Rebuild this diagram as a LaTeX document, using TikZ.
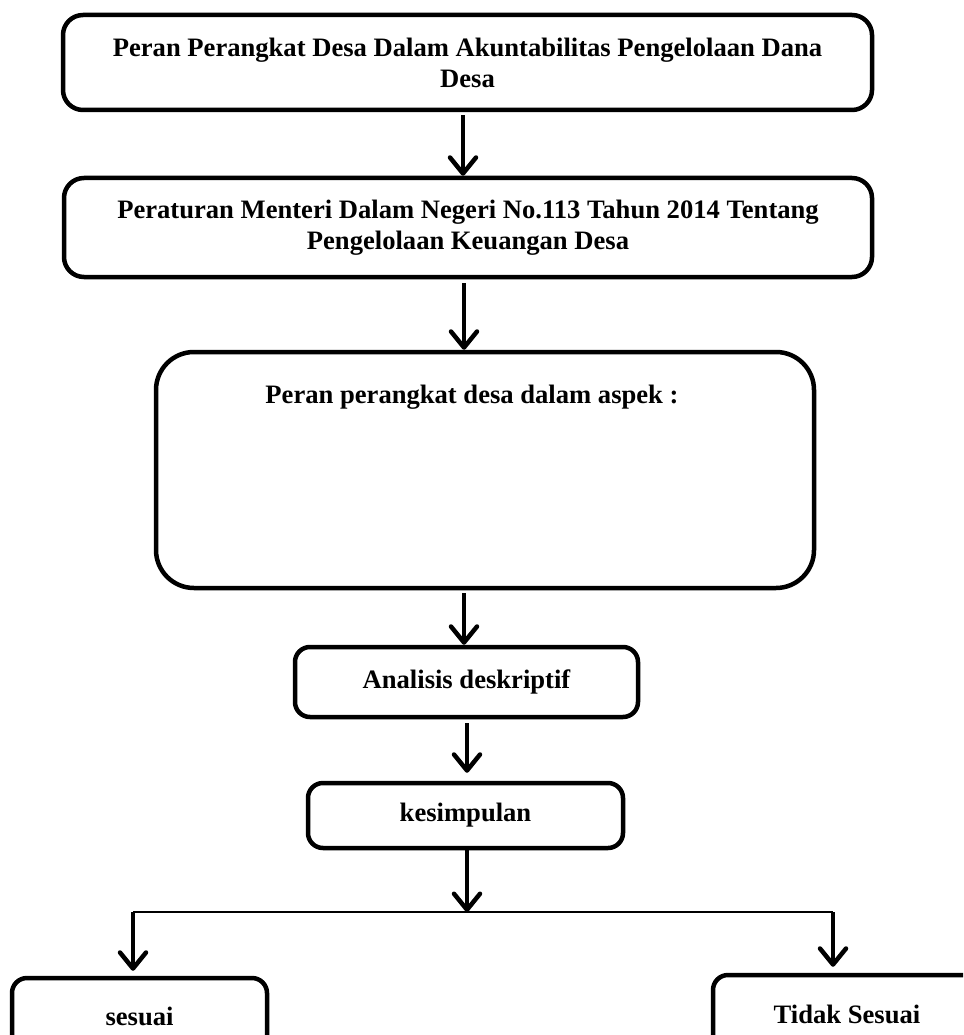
\documentclass[tikz,border=0pt]{standalone}
\usepackage{fontspec}
\setmainfont{Liberation Serif}
\usetikzlibrary{arrows.meta}
\tikzset{
  box/.style={draw=black, line width=4.5pt, fill=none, align=center, inner sep=0pt,
    font=\bfseries\fontsize{26.6}{31}\selectfont},
  arr/.style={line width=4.5pt, -{Straight Barb[length=16pt,width=26pt,round]}},
  thinline/.style={line width=2pt},
  lbl/.style={font=\bfseries\fontsize{26.6}{31}\selectfont, inner sep=0pt}
}
\begin{document}
\begin{tikzpicture}[x=1pt,y=-1pt]
\useasboundingbox (0,0) rectangle (963,1035);
\clip (0,0) rectangle (963,1035);
\node[box, rounded corners=20pt, minimum width=809pt, minimum height=95pt] (b1) at (467.5,62.5)
  {Peran Perangkat Desa Dalam Akuntabilitas Pengelolaan Dana\\Desa};
\node[box, rounded corners=20pt, minimum width=808pt, minimum height=99pt] (b2) at (468,227.5)
  {Peraturan Menteri Dalam Negeri No.113 Tahun 2014 Tentang\\Pengelolaan Keuangan Desa};
\node[box, rounded corners=38pt, minimum width=658pt, minimum height=236pt] (b3) at (485,470) {};
\node[lbl, anchor=base] (t3) at (472,403) {Peran perangkat desa dalam aspek :};
\node[box, rounded corners=15pt, minimum width=343pt, minimum height=70pt] (b4) at (466.5,682) {Analisis deskriptif};
\node[box, rounded corners=15pt, minimum width=315pt, minimum height=65pt] (b5) at (465.5,815.5) {kesimpulan};
\node[box, rounded corners=15pt, minimum width=255pt, minimum height=76pt] (b6) at (139.5,1016) {sesuai};
\node[box, rounded corners=15pt, minimum width=268pt, minimum height=78pt] (b7) at (847,1014) {Tidak Sesuai};
\coordinate (L) at (133,912);
\coordinate (R) at (833,912);
\coordinate (M) at (467,912);
\draw[arr] ([yshift=-3pt]b1.south -| 463,0) -- (b2.north -| 463,0);
\draw[arr] ([yshift=-4pt]b2.south -| 464,0) -- (b3.north -| 464,0);
\draw[arr] ([yshift=-3pt]b3.south -| 464,0) -- (b4.north -| 464,0);
\draw[arr] ([yshift=-4pt]b4.south -| 467,0) -- ([yshift=8pt]b5.north -| 467,0);
\draw[arr] (b5.south -| M) -- (M);
\draw[thinline] (L) -- (R);
\draw[arr, shorten >=5pt] (L) -- (b6.north -| L);
\draw[arr, shorten >=6pt] (R) -- (b7.north -| R);
\end{tikzpicture}
\end{document}
